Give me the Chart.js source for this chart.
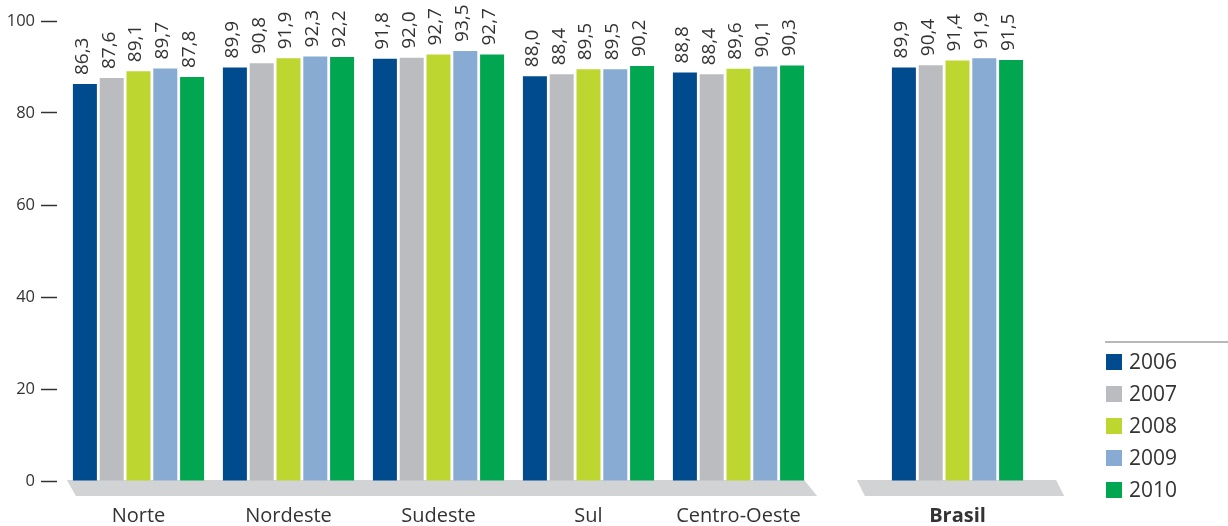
<!DOCTYPE html>
<html lang="pt-BR">
<head>
<meta charset="utf-8">
<title>Taxa por região, 2006–2010</title>
<script src="https://cdn.jsdelivr.net/npm/chart.js@4/dist/chart.umd.min.js"></script>
<style>
  html, body { margin: 0; padding: 0; background: #fff; }
  #wrap { position: relative; width: 1228px; height: 526px; }
</style>
</head>
<body>
<div id="wrap"><canvas id="chart"></canvas></div>
<script>
"use strict";

// Regions plus the national total (last one, drawn apart)
const categories = ["Norte", "Nordeste", "Sudeste", "Sul", "Centro-Oeste", "Brasil"];
const years = ["2006", "2007", "2008", "2009", "2010"];

// Values per year, same order as categories
const values2006 = [86.3, 89.9, 91.8, 88.0, 88.8, 89.9];
const values2007 = [87.6, 90.8, 92.0, 88.4, 88.4, 90.4];
const values2008 = [89.1, 91.9, 92.7, 89.5, 89.6, 91.4];
const values2009 = [89.7, 92.3, 93.5, 89.5, 90.1, 91.9];
const values2010 = [87.8, 92.2, 92.7, 90.2, 90.3, 91.5];

const yTicks = [0, 20, 40, 60, 80, 100];

const seriesValues = [values2006, values2007, values2008, values2009, values2010];
const colors = ["#004b8d", "#bbbcc0", "#bed630", "#87abd2", "#00a650"];

const FONT = "'Open Sans', 'Noto Sans', sans-serif";
const TEXT = "#333333";

// The total group sits a little further right than the regular spacing
const totalGap = 0.46;
const xPos = categories.map((c, i) => i + (i === categories.length - 1 ? totalGap : 0));

const datasets = years.map((year, s) => ({
  label: year,
  data: seriesValues[s].map((v, i) => ({ x: xPos[i], y: v })),
  backgroundColor: colors[s],
  borderWidth: 0,
  categoryPercentage: 0.8933,
  barPercentage: 0.8955
}));

const fmt = (v) => v.toFixed(1).replace(".", ",");

// Grey slanted bases under the region groups and under the total
const floorPlugin = {
  id: "floor",
  beforeDatasetsDraw(chart) {
    const ctx = chart.ctx;
    const first = chart.getDatasetMeta(0).data;
    const last = chart.getDatasetMeta(years.length - 1).data;
    const n = categories.length;
    const top = chart.scales.y.getPixelForValue(0) - 1;
    const bottom = top + 16;
    const half = (el) => el.width / 2;

    const shapes = [
      [first[0].x - half(first[0]) - 6, last[n - 2].x + half(last[n - 2]), 9, 13],
      [first[n - 1].x - half(first[n - 1]) - 35, last[n - 1].x + half(last[n - 1]) + 33, 8, 8]
    ];
    ctx.save();
    ctx.fillStyle = "#d1d3d4";
    shapes.forEach(([l, r, dl, dr]) => {
      ctx.beginPath();
      ctx.moveTo(l, top);
      ctx.lineTo(r, top);
      ctx.lineTo(r + dr, bottom);
      ctx.lineTo(l + dl, bottom);
      ctx.closePath();
      ctx.fill();
    });
    ctx.restore();
  }
};

// Rotated value labels above each bar
const valueLabels = {
  id: "valueLabels",
  afterDatasetsDraw(chart) {
    const ctx = chart.ctx;
    ctx.save();
    ctx.font = "19px " + FONT;
    ctx.fillStyle = TEXT;
    ctx.textAlign = "left";
    ctx.textBaseline = "alphabetic";
    chart.data.datasets.forEach((ds, s) => {
      chart.getDatasetMeta(s).data.forEach((bar, i) => {
        ctx.save();
        ctx.translate(bar.x + 3, bar.y - 9);
        ctx.rotate(-Math.PI / 2);
        ctx.fillText(fmt(ds.data[i].y), 0, 0);
        ctx.restore();
      });
    });
    ctx.restore();
  }
};

// Legend in the lower right corner with a rule above it
const sideLegend = {
  id: "sideLegend",
  afterDraw(chart) {
    const ctx = chart.ctx;
    ctx.save();
    ctx.strokeStyle = "#a0a0a0";
    ctx.lineWidth = 1.5;
    ctx.beginPath();
    ctx.moveTo(1105, 342);
    ctx.lineTo(1228, 342);
    ctx.stroke();

    ctx.font = "21px " + FONT;
    ctx.textAlign = "left";
    ctx.textBaseline = "middle";
    chart.data.datasets.forEach((ds, s) => {
      const y = 354 + s * 32;
      ctx.fillStyle = ds.backgroundColor;
      ctx.fillRect(1106, y, 16, 16);
      ctx.fillStyle = TEXT;
      ctx.fillText(ds.label, 1129, y + 9);
    });
    ctx.restore();
  }
};

new Chart(document.getElementById("chart"), {
  type: "bar",
  data: { datasets },
  options: {
    responsive: true,
    maintainAspectRatio: false,
    animation: false,
    layout: { padding: { top: 21, right: 114.5, left: 0, bottom: 0 } },
    plugins: {
      legend: { display: false },
      tooltip: { enabled: false }
    },
    scales: {
      x: {
        type: "linear",
        offset: false,
        min: -0.5433,
        max: 6.5,
        grid: { display: false, drawTicks: false },
        border: { display: false },
        afterBuildTicks: (scale) => {
          scale.ticks = xPos.map((v) => ({ value: v }));
        },
        afterFit: (scale) => { scale.height = 45; },
        ticks: {
          padding: 23,
          maxRotation: 0,
          autoSkip: false,
          color: TEXT,
          font: (c) => ({
            family: FONT,
            size: 20,
            weight: c.index === categories.length - 1 ? "bold" : "normal"
          }),
          callback: (v, i) => categories[i]
        }
      },
      y: {
        min: 0,
        max: 100,
        afterBuildTicks: (scale) => {
          scale.ticks = yTicks.map((v) => ({ value: v }));
        },
        afterFit: (scale) => { scale.width = 57; },
        grid: {
          drawOnChartArea: false,
          drawTicks: true,
          tickLength: 16,
          tickColor: "#333333",
          tickWidth: 1.5
        },
        border: { display: false },
        ticks: {
          padding: 6,
          color: TEXT,
          font: { family: FONT, size: 16.5 }
        }
      }
    }
  },
  plugins: [floorPlugin, valueLabels, sideLegend]
});
</script>
</body>
</html>
